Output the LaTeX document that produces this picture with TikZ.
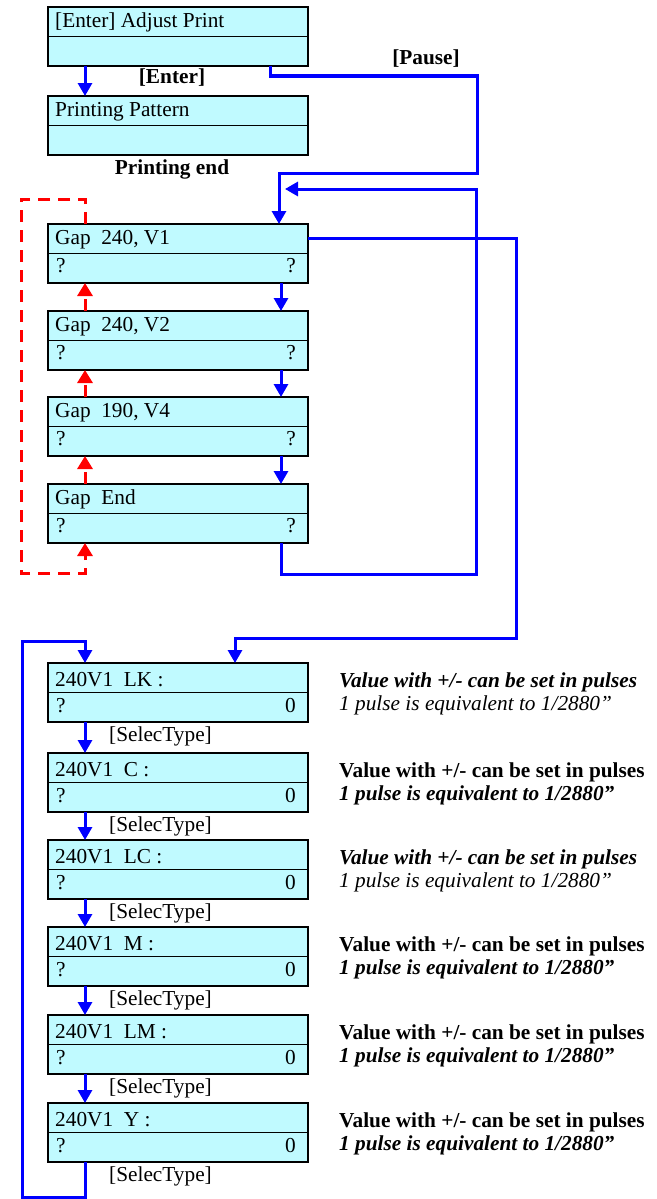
\documentclass[tikz,border=0pt]{standalone}
\usepackage{fontspec}
\setmainfont{Liberation Serif}
\usetikzlibrary{arrows.meta}
\definecolor{lcdfill}{RGB}{192,250,255}
\definecolor{pblue}{RGB}{0,0,255}
\definecolor{pred}{RGB}{255,0,0}
\tikzset{
  lcd/.style={draw=black, line width=2.6pt, fill=lcdfill, minimum width=260pt,
    minimum height=59pt, inner sep=0pt, outer sep=0pt, anchor=north west},
  divider/.style={draw=black, line width=1pt},
  txt/.style={anchor=base west, inner sep=0pt, font=\fontsize{21.3pt}{24pt}\selectfont},
  txtr/.style={anchor=base east, inner sep=0pt, font=\fontsize{21.3pt}{24pt}\selectfont},
  lbl/.style={anchor=base, inner sep=0pt, font=\fontsize{21.3pt}{24pt}\selectfont\bfseries},
  bline/.style={draw=pblue, line width=3pt},
  barrow/.style={draw=pblue, line width=3pt, -{Triangle[width=14pt,length=13pt]}},
  rarrow/.style={draw=pred, line width=3pt, dash pattern=on 12pt off 8pt,
    -{Triangle[width=15pt,length=13pt]}},
}
\newcommand{\lcdbox}[7]{%
  \node[lcd] (#1) at (48,#2) {};
  \draw[divider] (#1.west) -- (#1.east);
  \node[txt] (#1-a) at (55,#2+#6) {#3};
  \node[txt] (#1-b) at (56,#2+#7) {#4};
  \node[txtr] (#1-c) at (296,#2+#7) {#5};
}
\newcommand{\note}[4]{% name, top, style1, style2
  \node[txt, font=\fontsize{21.3pt}{24pt}\selectfont#3] (#1-n1) at (339,#2+24.5) {Value with +/- can be set in pulses};
  \node[txt, font=\fontsize{21.3pt}{24pt}\selectfont#4] (#1-n2) at (339,#2+47) {1 pulse is equivalent to 1/2880”};
}
\begin{document}
\begin{tikzpicture}[x=1pt,y=-1pt]
\useasboundingbox (0,0) rectangle (656,1199);

% top boxes
\lcdbox{b1}{7}{[Enter] Adjust Print}{}{}{21}{49}
\lcdbox{b2}{96}{Printing Pattern}{}{}{20}{49}

% gap boxes
\lcdbox{v1}{224}{Gap\ \ 240, V1}{?}{?}{20}{48}
\lcdbox{v2}{311}{Gap\ \ 240, V2}{?}{?}{20}{48}
\lcdbox{v4}{397}{Gap\ \ 190, V4}{?}{?}{20}{48}
\lcdbox{gend}{484}{Gap\ \ End}{?}{?}{20}{48}

% lower boxes
\lcdbox{lk}{663}{240V1\ \ LK :}{?}{0}{23}{49}
\lcdbox{c}{753}{240V1\ \ C :}{?}{0}{23}{49}
\lcdbox{lc}{840}{240V1\ \ LC :}{?}{0}{23}{49}
\lcdbox{m}{927}{240V1\ \ M :}{?}{0}{23}{49}
\lcdbox{lm}{1015}{240V1\ \ LM :}{?}{0}{23}{49}
\lcdbox{yy}{1103}{240V1\ \ Y :}{?}{0}{23}{49}

% notes
\note{lk}{663}{\bfseries\itshape}{\itshape}
\note{c}{753}{\bfseries}{\bfseries\itshape}
\note{lc}{840}{\bfseries\itshape}{\itshape}
\note{m}{927}{\bfseries}{\bfseries\itshape}
\note{lm}{1015}{\bfseries}{\bfseries\itshape}
\note{yy}{1103}{\bfseries}{\bfseries\itshape}

% labels
\node[lbl] (enterlbl) at (172,83) {[Enter]};
\node[lbl] (pauselbl) at (426,65) {[Pause]};
\node[lbl] (endlbl) at (172,174) {Printing end};
\foreach \t in {663,753,840,927,1015,1103}{
  \node[txt] (sel\t) at (109,\t+78) {[SelecType]};
}

% top connectors
\draw[barrow] ([xshift=37pt]b1.south west) -- ([xshift=37pt]b2.north west);
\draw[barrow] ([xshift=222pt]b1.south west) -- (270,76) -| (477,173) -| ([xshift=231pt]v1.north west);

% return loop
\coordinate (ret) at (285,189);
\draw[barrow] ([xshift=233pt]gend.south west) |- (476,574) |- (ret);

% gap down arrows
\draw[barrow] ([xshift=233pt]v1.south west) -- ([xshift=233pt]v2.north west);
\draw[barrow] ([xshift=233pt]v2.south west) -- ([xshift=233pt]v4.north west);
\draw[barrow] ([xshift=233pt]v4.south west) -- ([xshift=233pt]gend.north west);

% red up arrows
\draw[rarrow] ([xshift=37pt]v2.north west) -- ([xshift=37pt]v1.south west);
\draw[rarrow] ([xshift=37pt]v4.north west) -- ([xshift=37pt]v2.south west);
\draw[rarrow] ([xshift=37pt]gend.north west) -- ([xshift=37pt]v4.south west);
\draw[rarrow] ([xshift=37pt]v1.north west) -- (85,199) -| (21,573) -| ([xshift=37pt]gend.south west);

% v1 to lower section
\draw[barrow] ([yshift=15pt]v1.east) -| (516,638) -| ([xshift=187pt]lk.north west);

% lower down arrows
\draw[barrow] ([xshift=37pt]lk.south west) -- ([xshift=37pt]c.north west);
\draw[barrow] ([xshift=37pt]c.south west) -- ([xshift=37pt]lc.north west);
\draw[barrow] ([xshift=37pt]lc.south west) -- ([xshift=37pt]m.north west);
\draw[barrow] ([xshift=37pt]m.south west) -- ([xshift=37pt]lm.north west);
\draw[barrow] ([xshift=37pt]lm.south west) -- ([xshift=37pt]yy.north west);
\draw[barrow] ([xshift=37pt]yy.south west) -- (85,1197) -| (22,641) -| ([xshift=37pt]lk.north west);
\end{tikzpicture}
\end{document}
